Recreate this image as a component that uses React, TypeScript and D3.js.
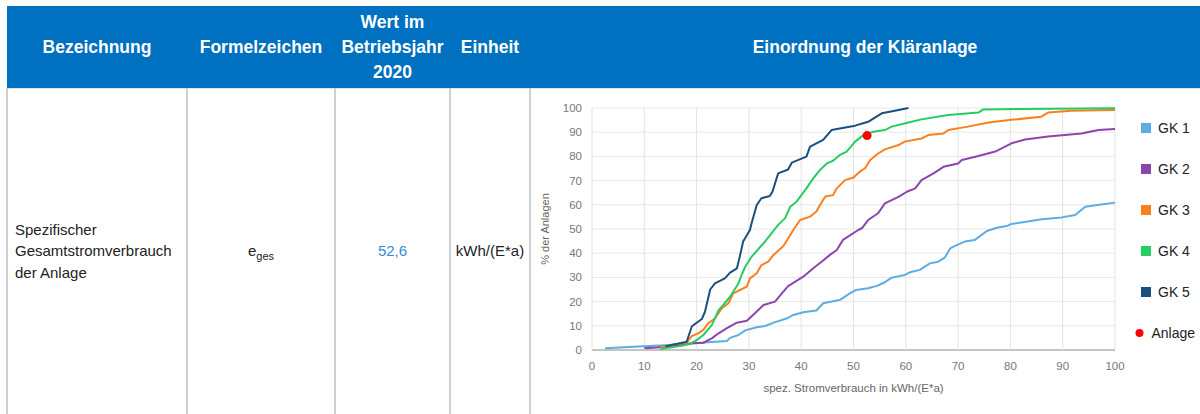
import React from 'react';
import * as d3 from 'd3';

// Werte: [spez. Stromverbrauch, % der Anlagen]
const gk1: [number, number][] = [
  [2.5, 0.7], [8, 1.3], [14, 2], [20, 2.9], [25.8, 3.7], [26.4, 5], [28, 6.2], [29.3, 8.1],
  [31.5, 9.4], [33.1, 9.9], [35, 11.5], [37.2, 13], [38.5, 14.5], [40.4, 15.6], [42.9, 16.3],
  [44.2, 19.3], [47.5, 20.8], [49.3, 23.4], [50.5, 24.8], [52.8, 25.5], [54.5, 26.5], [56, 28],
  [57.3, 29.9], [59.8, 31], [60.8, 32.1], [62.7, 33.1], [64.6, 35.8], [66.2, 36.5], [67.5, 38.3],
  [68.5, 42], [69.4, 43], [71.3, 44.8], [73.2, 45.5], [75.5, 49.2], [77.4, 50.5], [79.3, 51.2],
  [80.2, 52.1], [83, 53], [86, 54], [89.8, 54.8], [92.4, 55.8], [94.3, 59.2], [97, 60], [100, 60.9],
];
const gk2: [number, number][] = [
  [10, 0.7], [12.4, 1], [16.8, 2.1], [19.4, 2.8], [21.3, 3], [22.9, 4.8], [24.2, 6.9], [25.8, 9],
  [27.7, 11.3], [29.6, 12.1], [30.8, 14.5], [32.8, 18.6], [35, 20], [36.3, 23.4], [37.5, 26.4],
  [39.1, 28.6], [40.4, 30.3], [42.3, 33.8], [43.9, 36.5], [45.5, 39.3], [46.8, 41.3], [48, 45.5],
  [50.9, 49.6], [51.6, 50.3], [52.8, 53.7], [54.7, 56.5], [56, 60.6], [58.6, 63.3], [60.2, 65.4],
  [61.8, 66.8], [63, 70.2], [65.3, 73], [67.2, 75.7], [70, 77.1], [70.7, 78.5], [73.9, 80.2],
  [77.1, 82], [80.2, 85.4], [82.8, 87], [87.2, 88.2], [93.6, 89.5], [96.8, 90.9], [100, 91.3],
];
const gk3: [number, number][] = [
  [13, 1], [15.5, 2.3], [18.1, 3], [19.1, 5.8], [20.3, 6.9], [21.3, 8.3], [22.2, 11], [23.5, 13],
  [24.8, 17.2], [26.1, 19.3], [27, 23.4], [28.3, 24.8], [29.6, 26.2], [30.2, 29.6], [31.5, 31.7],
  [32.4, 35.1], [33.7, 36.5], [34.7, 39.3], [36.6, 43], [38.5, 49.6], [39.8, 53.7], [41.7, 55.1],
  [42.9, 57.2], [43.6, 59.9], [44.6, 63.4], [46.1, 64], [46.8, 66.8], [48.4, 70.2], [50, 71.3],
  [51.2, 73.7], [52.2, 75.1], [53.2, 78.5], [54.7, 81.2], [56, 82.9], [58.6, 84.7], [59.8, 86.1],
  [63, 87.4], [64.3, 88.8], [67.2, 89.5], [68.1, 90.9], [71.9, 92.3], [75.8, 94], [80.2, 95.1],
  [85.9, 96.4], [87.2, 98.1], [91.7, 98.9], [100, 99.2],
];
const gk4: [number, number][] = [
  [13, 0.4], [16.8, 1.6], [18.7, 2.5], [20, 4.1], [21.3, 6.2], [22.9, 10.3], [24.2, 16.5],
  [25.1, 18.6], [26.4, 22], [28, 27.5], [28.6, 31], [29.3, 34.4], [30.5, 38.5], [32.8, 44.1],
  [35.6, 51.7], [36.9, 54.4], [37.9, 59.2], [39.1, 61.3], [41, 66.8], [42.3, 70.9], [43.6, 74.4],
  [44.9, 77.1], [46.1, 78.2], [47.4, 80.6], [48.7, 82], [50.3, 86.1], [51.9, 88.8], [53.8, 90.2],
  [56, 90.9], [57.3, 92.3], [60.5, 94], [63, 95.3], [68.1, 97.1], [73.9, 98.1], [74.8, 99.4],
  [82.2, 99.6], [100, 99.9],
];
const gk5: [number, number][] = [
  [14, 1.5], [18.1, 3.4], [19.1, 9.8], [21, 12.8], [21.6, 15.8], [22.6, 25], [23.5, 27.5],
  [25.4, 29.6], [26.4, 32], [27.7, 33.7], [28.3, 39], [28.9, 44.8], [30.2, 49.6], [30.5, 52.3],
  [31.5, 59.9], [32.4, 62.7], [34, 63.6], [34.5, 65.4], [35.6, 73], [37.5, 74.6], [38.2, 77.4],
  [41, 79.9], [41.7, 84], [44.2, 86.8], [45.8, 90.9], [50.3, 92.7], [52.8, 94.3], [55.4, 97.8],
  [57.9, 98.9], [60.5, 100],
];
const anlage: [number, number] = [52.6, 88.6];

const seriesNames = ['GK 1', 'GK 2', 'GK 3', 'GK 4', 'GK 5'];
const seriesData = [gk1, gk2, gk3, gk4, gk5];
const seriesColors = ['#5dade2', '#8e44ad', '#fb7f1c', '#27cc64', '#1b4f7e'];

const xTicks = [0, 10, 20, 30, 40, 50, 60, 70, 80, 90, 100];
const yTicks = [0, 10, 20, 30, 40, 50, 60, 70, 80, 90, 100];

// Tabelle
const colEdges = [7, 187, 335, 450, 530, 1200];
const headerLabels = [['Bezeichnung'], ['Formelzeichen'], ['Wert im', 'Betriebsjahr', '2020'], ['Einheit'], ['Einordnung der Kläranlage']];
const nameLines = ['Spezifischer', 'Gesamtstromverbrauch', 'der Anlage'];

const FONT = '"Liberation Sans", Arial, Helvetica, sans-serif';

const App = () => {
  const width = 1200;
  const height = 414;
  const headerTop = 6;
  const headerBottom = 88;

  const plot = { left: 592, right: 1115, top: 108, bottom: 350 };
  const x = d3.scaleLinear().domain([0, 100]).range([plot.left, plot.right]);
  const y = d3.scaleLinear().domain([0, 100]).range([plot.bottom, plot.top]);
  const line = d3.line<[number, number]>().x(d => x(d[0])).y(d => y(d[1]));

  const headerMid = (headerTop + headerBottom) / 2;

  return (
    <div style={{ position: 'absolute', left: 0, top: 0, width, height, background: '#fff' }}>
      <svg width={width} height={height} style={{ display: 'block', fontFamily: FONT }}>
        {/* Kopfzeile */}
        <rect x={colEdges[0]} y={headerTop} width={width - colEdges[0]} height={headerBottom - headerTop} fill="#0070c0" />
        {headerLabels.map((lines, i) => {
          const cx = (colEdges[i] + colEdges[i + 1]) / 2;
          const lh = 25;
          const start = headerMid - ((lines.length - 1) * lh) / 2;
          return lines.map((t, j) => (
            <text key={`${i}-${j}`} x={cx} y={start + j * lh + 6} textAnchor="middle"
              fill="#fff" fontSize="17.5" fontWeight="bold">{t}</text>
          ));
        })}

        {/* Zellrahmen */}
        <line x1={colEdges[0]} x2={width} y1={headerBottom + 0.5} y2={headerBottom + 0.5} stroke="#dde6ee" strokeWidth="1" />
        {colEdges.slice(0, 5).map(cx => (
          <line key={cx} x1={cx} x2={cx} y1={headerBottom} y2={height} stroke="#cfcfcf" strokeWidth="2" />
        ))}

        {/* Datenzeile */}
        {nameLines.map((t, i) => (
          <text key={t} x={15} y={234.5 + i * 21.5} fill="#222" fontSize="15">{t}</text>
        ))}
        <text x={(colEdges[1] + colEdges[2]) / 2} y={256} textAnchor="middle" fill="#222" fontSize="15">
          e<tspan fontSize="11" dy="4">ges</tspan>
        </text>
        <text x={(colEdges[2] + colEdges[3]) / 2} y={255.5} textAnchor="middle" fill="#3a8ad6" fontSize="15">52,6</text>
        <text x={(colEdges[3] + colEdges[4]) / 2} y={255.5} textAnchor="middle" fill="#222" fontSize="15">kWh/(E*a)</text>

        {/* Diagramm: Gitter */}
        {yTicks.map(t => (
          <line key={`gy${t}`} x1={plot.left} x2={plot.right} y1={y(t)} y2={y(t)}
            stroke={t === 0 ? '#c4c4c4' : '#e8e8e8'} strokeWidth={t === 0 ? 2 : 1} />
        ))}
        {xTicks.map(t => (
          <line key={`gx${t}`} x1={x(t)} x2={x(t)} y1={plot.top} y2={plot.bottom}
            stroke="#e3e3e3" strokeWidth="1" />
        ))}

        {/* Achsenbeschriftung */}
        {yTicks.map(t => (
          <text key={`ty${t}`} x={plot.left - 10} y={y(t)} textAnchor="end" dominantBaseline="central"
            fill="#777" fontSize="11.5">{t}</text>
        ))}
        {xTicks.map(t => (
          <text key={`tx${t}`} x={x(t)} y={plot.bottom + 20} textAnchor="middle"
            fill="#777" fontSize="11.5">{t}</text>
        ))}
        <text x={(plot.left + plot.right) / 2} y={392} textAnchor="middle" fill="#666" fontSize="11.5">
          spez. Stromverbrauch in kWh/(E*a)
        </text>
        <text transform={`translate(545, ${(plot.top + plot.bottom) / 2}) rotate(-90)`} textAnchor="middle"
          dominantBaseline="central" fill="#666" fontSize="11">% der Anlagen</text>

        {/* Linien */}
        {seriesData.map((s, i) => (
          <path key={seriesNames[i]} d={line(s) || ''} fill="none" stroke={seriesColors[i]}
            strokeWidth="2" strokeLinejoin="round" />
        ))}
        <circle cx={x(anlage[0])} cy={y(anlage[1])} r="4.5" fill="#ff0000" />

        {/* Legende */}
        {seriesNames.map((n, i) => (
          <g key={n} transform={`translate(1141, ${128 + i * 41})`}>
            <rect x="0" y="-5" width="10" height="10" fill={seriesColors[i]} />
            <text x="17" y="5" fill="#222" fontSize="14">{n}</text>
          </g>
        ))}
        <g transform="translate(1139.5, 333)">
          <circle cx="0" cy="0" r="4" fill="#ff0000" />
          <text x="12" y="5" fill="#222" fontSize="14">Anlage</text>
        </g>
      </svg>
    </div>
  );
};

export default App;
